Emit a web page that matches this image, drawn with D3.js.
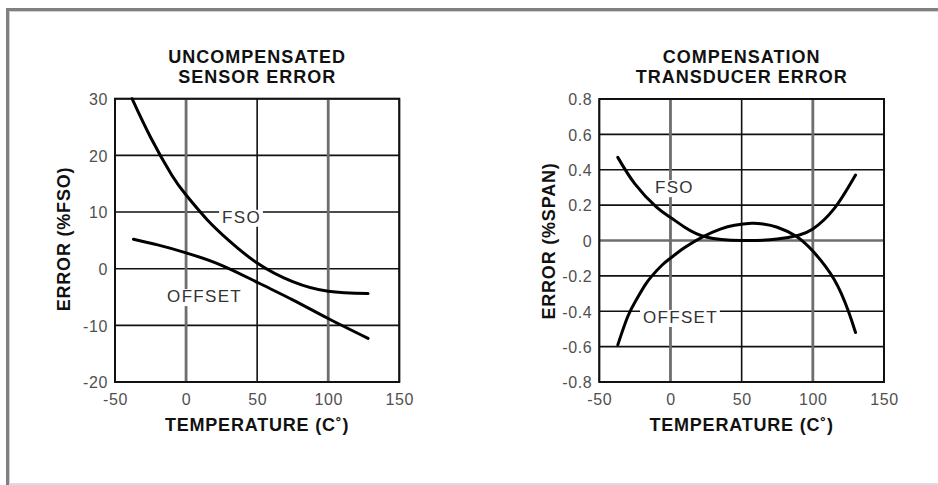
<!DOCTYPE html>
<html>
<head>
<meta charset="utf-8">
<script src="https://cdn.jsdelivr.net/npm/d3@7"></script>
<style>
body { margin: 0; background: #fff; }
svg { display: block; font-family: "Liberation Sans", Arial, sans-serif; }
</style>
</head>
<body>
<div id="chart"></div>
<script>
// Temperature axis shared by both panels
const tempTicks = [-50, 0, 50, 100, 150];
const tempTickLabels = ["-50", "0", "50", "100", "150"];

// Left panel: uncompensated sensor error (%FSO)
const leftTicks = [-20, -10, 0, 10, 20, 30];
const leftTickLabels = ["-20", "-10", "0", "10", "20", "30"];
const leftFso = [[-38, 30], [-25, 23.2], [-10, 16.5], [0, 13], [15, 8.6], [30, 5.0], [50, 1.0],
    [75, -2.3], [100, -4.0], [128, -4.4]];
const leftOffset = [[-37, 5.2], [-20, 4.2], [0, 2.8], [25, 0.6], [50, -2.4], [75, -5.5],
    [100, -8.8], [128, -12.3]];

// Right panel: compensated transducer error (%SPAN)
const rightTicks = [-0.8, -0.6, -0.4, -0.2, 0, 0.2, 0.4, 0.6, 0.8];
const rightTickLabels = ["-0.8", "-0.6", "-0.4", "-0.2", "0", "0.2", "0.4", "0.6", "0.8"];
const rightFso = [[-37, 0.47], [-25, 0.32], [-10, 0.19], [0, 0.13], [10, 0.075], [25, 0.02],
    [50, 0.0], [75, 0.008], [90, 0.03], [100, 0.065], [115, 0.18], [130, 0.37]];
const rightOffset = [[-37, -0.59], [-30, -0.43], [-24, -0.335], [-18, -0.254], [-13, -0.2],
    [-6, -0.14], [0, -0.1], [10, -0.04], [23, 0.022], [35, 0.064], [45, 0.086], [57, 0.097],
    [65, 0.093], [75, 0.075], [88, 0.025], [100, -0.06], [115, -0.22], [125, -0.4], [130, -0.52]];

const width = 938, height = 485;

const svg = d3.select('#chart')
    .append('svg')
    .attr('width', width)
    .attr('height', height);

svg.append('rect').attr('width', width).attr('height', height).attr('fill', '#fff');

// Outer page frame
svg.append('rect').attr('x', 6).attr('y', 8).attr('width', 3).attr('height', height - 8).attr('fill', '#808080');
svg.append('rect').attr('x', 6).attr('y', 8).attr('width', width - 6).attr('height', 3).attr('fill', '#808080');
svg.append('rect').attr('x', 9).attr('y', 11).attr('width', 1).attr('height', height - 11).attr('fill', '#cfcfcf');
svg.append('rect').attr('x', 9).attr('y', 11).attr('width', width - 9).attr('height', 1).attr('fill', '#cfcfcf');
svg.append('rect').attr('x', 9).attr('y', 483).attr('width', width - 9).attr('height', 2).attr('fill', '#dcdcdc');

function drawPanel(cfg) {
    const x = d3.scaleLinear().domain([-50, 150]).range([cfg.left, cfg.right]);
    const y = d3.scaleLinear().domain(cfg.yDomain).range([cfg.bottom, cfg.top]);
    const g = svg.append('g');

    // Horizontal gridlines
    g.selectAll('.hgrid')
        .data(cfg.yTicks)
        .enter()
        .append('line')
        .attr('x1', cfg.left).attr('x2', cfg.right)
        .attr('y1', d => y(d)).attr('y2', d => y(d))
        .attr('stroke', d => cfg.greyY.includes(d) ? '#6e6e6e' : '#111')
        .attr('stroke-width', d => cfg.greyY.includes(d) ? 2.6 : 1.6);

    // Vertical gridlines (0 and 100 are drawn grey and heavier)
    g.selectAll('.vgrid')
        .data(tempTicks)
        .enter()
        .append('line')
        .attr('x1', d => x(d)).attr('x2', d => x(d))
        .attr('y1', cfg.top).attr('y2', cfg.bottom)
        .attr('stroke', d => (d === 0 || d === 100) ? '#6e6e6e' : '#111')
        .attr('stroke-width', d => (d === 0 || d === 100) ? 2.8 : 1.6);

    // Plot frame
    g.append('rect')
        .attr('x', cfg.left).attr('y', cfg.top)
        .attr('width', cfg.right - cfg.left).attr('height', cfg.bottom - cfg.top)
        .attr('fill', 'none').attr('stroke', '#111').attr('stroke-width', 2);

    // Axes (labels only, gridlines already drawn)
    const xAxis = g.append('g')
        .attr('transform', `translate(0,${cfg.bottom})`)
        .call(d3.axisBottom(x).tickValues(tempTicks).tickSize(0).tickPadding(12)
            .tickFormat((d, i) => tempTickLabels[i]));
    const yAxis = g.append('g')
        .attr('transform', `translate(${cfg.left},0)`)
        .call(d3.axisLeft(y).tickValues(cfg.yTicks).tickSize(0).tickPadding(7)
            .tickFormat((d, i) => cfg.yLabels[i]));
    [xAxis, yAxis].forEach(a => {
        a.select('.domain').remove();
        a.selectAll('text')
            .attr('font-family', '"Liberation Sans", Arial, sans-serif')
            .attr('font-size', 16)
            .attr('letter-spacing', 0.6)
            .attr('fill', '#505050');
    });
    yAxis.selectAll('text').attr('dy', '0.36em');

    // Curves
    const line = d3.line()
        .x(d => x(d[0]))
        .y(d => y(d[1]))
        .curve(d3.curveNatural);
    g.selectAll('.curve')
        .data(cfg.curves)
        .enter()
        .append('path')
        .attr('d', line)
        .attr('fill', 'none')
        .attr('stroke', '#000')
        .attr('stroke-width', 3)
        .attr('stroke-linecap', 'round');

    // Curve labels with white knock-out boxes
    cfg.labels.forEach(l => {
        const t = g.append('text')
            .attr('x', x(l.t)).attr('y', y(l.v))
            .attr('text-anchor', 'middle')
            .attr('font-size', 17)
            .attr('letter-spacing', 1.3)
            .attr('fill', '#333')
            .text(l.text);
        const b = t.node().getBBox();
        g.insert('rect', () => t.node())
            .attr('x', b.x - 3).attr('y', b.y + 2)
            .attr('width', b.width + 5).attr('height', b.height - 2)
            .attr('fill', '#fff');
    });

    // Title
    cfg.title.forEach((s, i) => {
        svg.append('text')
            .attr('x', (cfg.left + cfg.right) / 2)
            .attr('y', 63 + i * 20)
            .attr('text-anchor', 'middle')
            .attr('font-size', 18)
            .attr('font-weight', 'bold')
            .attr('letter-spacing', 1)
            .attr('fill', '#111')
            .text(s);
    });

    // Axis titles
    svg.append('text')
        .attr('x', (cfg.left + cfg.right) / 2)
        .attr('y', 431)
        .attr('text-anchor', 'middle')
        .attr('font-size', 18)
        .attr('font-weight', 'bold')
        .attr('letter-spacing', 0.8)
        .attr('fill', '#111')
        .text('TEMPERATURE (C˚)');
    svg.append('text')
        .attr('transform', `translate(${cfg.yTitleX},${cfg.yTitleY}) rotate(-90)`)
        .attr('text-anchor', 'middle')
        .attr('font-size', 18)
        .attr('font-weight', 'bold')
        .attr('letter-spacing', 0.8)
        .attr('fill', '#111')
        .text(cfg.yTitle);
}

drawPanel({
    left: 115, right: 399.3, top: 98.7, bottom: 382,
    yDomain: [-20, 30], yTicks: leftTicks, yLabels: leftTickLabels, greyY: [],
    curves: [leftFso, leftOffset],
    labels: [{ text: 'FSO', t: 39, v: 8.1 }, { text: 'OFFSET', t: 13, v: -5.9 }],
    title: ['UNCOMPENSATED', 'SENSOR ERROR'],
    yTitle: 'ERROR (%FSO)', yTitleX: 70, yTitleY: 239
});

drawPanel({
    left: 599.3, right: 884, top: 99, bottom: 382,
    yDomain: [-0.8, 0.8], yTicks: rightTicks, yLabels: rightTickLabels, greyY: [0],
    curves: [rightFso, rightOffset],
    labels: [{ text: 'FSO', t: 2.8, v: 0.268 }, { text: 'OFFSET', t: 7, v: -0.466 }],
    title: ['COMPENSATION', 'TRANSDUCER ERROR'],
    yTitle: 'ERROR (%SPAN)', yTitleX: 555, yTitleY: 241
});
</script>
</body>
</html>
